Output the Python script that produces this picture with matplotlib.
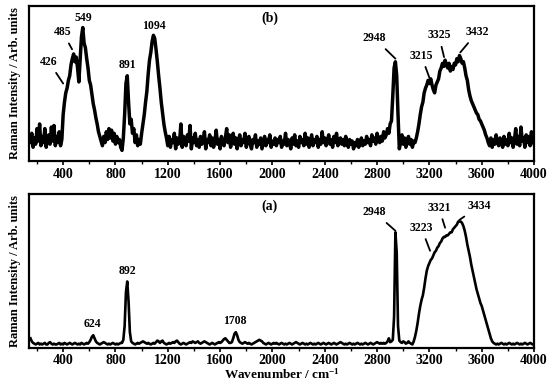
import numpy as np
import matplotlib
matplotlib.use('Agg')
import matplotlib.pyplot as plt
from matplotlib.ticker import MultipleLocator

# --- 1. Spectra (wavenumber grid 150..4000 cm-1, step 10) ---
WN_START = 150
WN_STEP = 10

# (b) noisy spectrum, relative intensity
spec_b = [
    0.12, 0.18, 0.09, 0.15, 0.11, 0.21, 0.13, 0.24, 0.10, 0.16,  # 150
    0.12, 0.21, 0.09, 0.14, 0.17, 0.11, 0.22, 0.13, 0.23, 0.10,  # 250
    0.16, 0.12, 0.19, 0.10, 0.14, 0.30, 0.38, 0.44, 0.47, 0.52,  # 350
    0.55, 0.62, 0.66, 0.69, 0.64, 0.67, 0.60, 0.51, 0.66, 0.80,  # 450
    0.86, 0.76, 0.73, 0.66, 0.60, 0.52, 0.49, 0.43, 0.37, 0.33,  # 550
    0.28, 0.24, 0.19, 0.16, 0.13, 0.10, 0.16, 0.12, 0.19, 0.14,  # 650
    0.21, 0.15, 0.20, 0.13, 0.18, 0.11, 0.16, 0.12, 0.14, 0.09,  # 750
    0.07, 0.15, 0.30, 0.50, 0.55, 0.38, 0.24, 0.27, 0.18, 0.21,  # 850
    0.12, 0.17, 0.10, 0.14, 0.11, 0.18, 0.24, 0.30, 0.38, 0.45,  # 950
    0.56, 0.65, 0.70, 0.77, 0.81, 0.79, 0.72, 0.64, 0.55, 0.47,  # 1050
    0.38, 0.31, 0.24, 0.19, 0.15, 0.10, 0.16, 0.09, 0.14, 0.12,  # 1150
    0.18, 0.08, 0.15, 0.11, 0.13, 0.24, 0.09, 0.16, 0.12, 0.10,  # 1250
    0.17, 0.13, 0.23, 0.08, 0.15, 0.12, 0.18, 0.10, 0.14, 0.09,  # 1350
    0.16, 0.11, 0.13, 0.19, 0.08, 0.14, 0.12, 0.17, 0.10, 0.15,  # 1450
    0.09, 0.13, 0.20, 0.11, 0.14, 0.08, 0.16, 0.12, 0.10, 0.15,  # 1550
    0.21, 0.12, 0.17, 0.09, 0.14, 0.18, 0.11, 0.15, 0.08, 0.13,  # 1650
    0.17, 0.10, 0.14, 0.12, 0.18, 0.09, 0.13, 0.16, 0.11, 0.08,  # 1750
    0.14, 0.12, 0.17, 0.09, 0.13, 0.11, 0.15, 0.08, 0.12, 0.16,  # 1850
    0.10, 0.14, 0.12, 0.17, 0.09, 0.13, 0.11, 0.15, 0.10, 0.14,  # 1950
    0.12, 0.16, 0.09, 0.13, 0.11, 0.18, 0.10, 0.14, 0.12, 0.08,  # 2050
    0.15, 0.11, 0.17, 0.10, 0.13, 0.09, 0.16, 0.12, 0.14, 0.10,  # 2150
    0.18, 0.11, 0.15, 0.09, 0.13, 0.17, 0.10, 0.14, 0.12, 0.16,  # 2250
    0.09, 0.14, 0.11, 0.19, 0.12, 0.15, 0.10, 0.13, 0.17, 0.11,  # 2350
    0.14, 0.09, 0.16, 0.12, 0.18, 0.10, 0.13, 0.15, 0.11, 0.14,  # 2450
    0.10, 0.16, 0.12, 0.09, 0.14, 0.11, 0.13, 0.08, 0.12, 0.10,  # 2550
    0.14, 0.09, 0.12, 0.15, 0.10, 0.13, 0.11, 0.16, 0.12, 0.14,  # 2650
    0.10, 0.17, 0.13, 0.15, 0.11, 0.18, 0.14, 0.12, 0.16, 0.13,  # 2750
    0.19, 0.15, 0.17, 0.21, 0.18, 0.24, 0.26, 0.42, 0.60, 0.64,  # 2850
    0.55, 0.30, 0.08, 0.12, 0.17, 0.11, 0.15, 0.09, 0.13, 0.16,  # 2950
    0.11, 0.14, 0.09, 0.13, 0.12, 0.15, 0.19, 0.24, 0.30, 0.35,  # 3050
    0.38, 0.44, 0.47, 0.49, 0.52, 0.50, 0.53, 0.49, 0.46, 0.44,  # 3150
    0.49, 0.51, 0.53, 0.58, 0.60, 0.63, 0.61, 0.65, 0.62, 0.60,  # 3250
    0.63, 0.58, 0.61, 0.59, 0.63, 0.62, 0.66, 0.64, 0.68, 0.66,  # 3350
    0.63, 0.64, 0.60, 0.55, 0.52, 0.46, 0.42, 0.39, 0.37, 0.35,  # 3450
    0.33, 0.31, 0.30, 0.27, 0.26, 0.24, 0.22, 0.20, 0.17, 0.15,  # 3550
    0.12, 0.10, 0.15, 0.09, 0.14, 0.11, 0.17, 0.12, 0.10, 0.15,  # 3650
    0.13, 0.09, 0.16, 0.11, 0.14, 0.10, 0.18, 0.12, 0.15, 0.09,  # 3750
    0.14, 0.21, 0.11, 0.16, 0.10, 0.22, 0.13, 0.15, 0.09, 0.17,  # 3850
    0.12, 0.16, 0.10, 0.19, 0.13, 0.11,                          # 3950
]

# (a) smooth spectrum, relative intensity
spec_a = [
    0.06, 0.04, 0.03, 0.025, 0.02, 0.025, 0.03, 0.02, 0.025, 0.02,  # 150
    0.025, 0.03, 0.02, 0.02, 0.03, 0.035, 0.025, 0.02, 0.025, 0.02,  # 250
    0.02, 0.025, 0.03, 0.02, 0.025, 0.02, 0.03, 0.025, 0.02, 0.025,  # 350
    0.03, 0.025, 0.02, 0.025, 0.03, 0.025, 0.02, 0.025, 0.02, 0.03,  # 450
    0.025, 0.02, 0.025, 0.03, 0.025, 0.035, 0.05, 0.07, 0.08, 0.06,  # 550
    0.04, 0.03, 0.025, 0.02, 0.025, 0.03, 0.035, 0.03, 0.025, 0.02,  # 650
    0.025, 0.02, 0.025, 0.03, 0.025, 0.02, 0.025, 0.02, 0.025, 0.03,  # 750
    0.03, 0.05, 0.14, 0.36, 0.43, 0.30, 0.10, 0.04, 0.03, 0.025,  # 850
    0.02, 0.025, 0.03, 0.025, 0.03, 0.035, 0.04, 0.035, 0.03, 0.025,  # 950
    0.03, 0.025, 0.02, 0.025, 0.03, 0.025, 0.035, 0.045, 0.04, 0.03,  # 1050
    0.04, 0.045, 0.03, 0.025, 0.02, 0.025, 0.03, 0.025, 0.03, 0.035,  # 1150
    0.03, 0.04, 0.045, 0.035, 0.025, 0.02, 0.025, 0.03, 0.025, 0.02,  # 1250
    0.025, 0.03, 0.035, 0.03, 0.04, 0.035, 0.03, 0.035, 0.04, 0.03,  # 1350
    0.025, 0.03, 0.035, 0.04, 0.035, 0.03, 0.025, 0.02, 0.025, 0.03,  # 1450
    0.025, 0.02, 0.025, 0.03, 0.035, 0.03, 0.035, 0.045, 0.055, 0.06,  # 1550
    0.05, 0.04, 0.03, 0.03, 0.035, 0.06, 0.09, 0.10, 0.08, 0.05,  # 1650
    0.035, 0.03, 0.025, 0.03, 0.035, 0.03, 0.025, 0.03, 0.025, 0.02,  # 1750
    0.025, 0.03, 0.035, 0.04, 0.045, 0.05, 0.045, 0.04, 0.03, 0.025,  # 1850
    0.02, 0.025, 0.03, 0.025, 0.02, 0.025, 0.03, 0.025, 0.03, 0.025,  # 1950
    0.02, 0.025, 0.03, 0.025, 0.02, 0.025, 0.02, 0.025, 0.03, 0.025,  # 2050
    0.02, 0.025, 0.03, 0.035, 0.03, 0.025, 0.02, 0.025, 0.03, 0.025,  # 2150
    0.02, 0.025, 0.02, 0.025, 0.03, 0.025, 0.02, 0.025, 0.02, 0.025,  # 2250
    0.03, 0.025, 0.02, 0.025, 0.03, 0.025, 0.02, 0.025, 0.03, 0.025,  # 2350
    0.02, 0.025, 0.03, 0.025, 0.02, 0.025, 0.03, 0.035, 0.03, 0.025,  # 2450
    0.02, 0.025, 0.02, 0.025, 0.03, 0.025, 0.02, 0.025, 0.02, 0.025,  # 2550
    0.03, 0.025, 0.02, 0.025, 0.02, 0.025, 0.03, 0.025, 0.02, 0.025,  # 2650
    0.03, 0.025, 0.02, 0.025, 0.03, 0.035, 0.03, 0.025, 0.03, 0.025,  # 2750
    0.03, 0.025, 0.03, 0.04, 0.06, 0.035, 0.04, 0.05, 0.20, 0.75,  # 2850
    0.62, 0.14, 0.045, 0.035, 0.03, 0.04, 0.035, 0.025, 0.03, 0.04,  # 2950
    0.03, 0.025, 0.02, 0.04, 0.07, 0.11, 0.16, 0.22, 0.27, 0.31,  # 3050
    0.34, 0.39, 0.45, 0.50, 0.53, 0.55, 0.57, 0.58, 0.60, 0.62,  # 3150
    0.63, 0.65, 0.66, 0.68, 0.69, 0.71, 0.72, 0.72, 0.73, 0.73,  # 3250
    0.74, 0.75, 0.75, 0.77, 0.78, 0.79, 0.80, 0.82, 0.82, 0.82,  # 3350
    0.81, 0.79, 0.76, 0.72, 0.67, 0.63, 0.59, 0.54, 0.50, 0.46,  # 3450
    0.42, 0.38, 0.35, 0.32, 0.29, 0.27, 0.24, 0.21, 0.18, 0.15,  # 3550
    0.12, 0.09, 0.06, 0.04, 0.03, 0.025, 0.02, 0.025, 0.02, 0.025,  # 3650
    0.03, 0.025, 0.02, 0.025, 0.02, 0.025, 0.03, 0.025, 0.02, 0.025,  # 3750
    0.02, 0.025, 0.03, 0.025, 0.02, 0.025, 0.02, 0.025, 0.03, 0.025,  # 3850
    0.02, 0.025, 0.03, 0.025, 0.02, 0.025,                            # 3950
]

# peak labels: (text, label x, label y, line end x, line end y) -- None = no leader line
labels_b = [
    ('426', 290, 0.64, 400, 0.50),
    ('485', 398, 0.83, 468, 0.72),
    ('549', 551, 0.92, None, None),
    ('891', 895, 0.62, None, None),
    ('1094', 1093, 0.87, None, None),
    ('2948', 2781, 0.79, 2940, 0.66),
    ('3215', 3138, 0.68, 3203, 0.53),
    ('3325', 3272, 0.81, 3312, 0.67),
    ('3432', 3566, 0.83, 3436, 0.70),
]
labels_a = [
    ('624', 627, 0.15, None, None),
    ('892', 895, 0.50, None, None),
    ('1708', 1711, 0.17, None, None),
    ('2948', 2781, 0.88, 2940, 0.76),
    ('3223', 3138, 0.78, 3205, 0.63),
    ('3321', 3272, 0.91, 3320, 0.78),
    ('3434', 3582, 0.92, 3428, 0.83),
]

# --- 2. Style ---
plt.rcParams['font.family'] = 'Liberation Serif'
plt.rcParams['font.weight'] = 'bold'
plt.rcParams['mathtext.fontset'] = 'custom'
plt.rcParams['mathtext.rm'] = 'Liberation Serif:bold'
plt.rcParams['mathtext.it'] = 'Liberation Serif:bold'
plt.rcParams['mathtext.bf'] = 'Liberation Serif:bold'

fig = plt.figure(figsize=(5.5, 3.84), dpi=100)
ax_b = fig.add_axes([0.053, 0.58, 0.918, 0.405])
ax_a = fig.add_axes([0.053, 0.095, 0.918, 0.40])


def draw_panel(ax, values, labels, tag, lw):
    wn = WN_START + WN_STEP * np.arange(len(values))
    ax.plot(wn, values, color='black', lw=lw)
    ax.set_xlim(140, 4000)
    ax.set_ylim(0, 1)
    ax.set_yticks([])
    ax.xaxis.set_major_locator(MultipleLocator(400))
    ax.xaxis.set_minor_locator(MultipleLocator(200))
    ax.tick_params(axis='x', which='major', direction='out', length=3, width=1.2,
                   labelsize=10, pad=1.5)
    ax.tick_params(axis='x', which='minor', direction='out', length=2, width=1)
    for lab in ax.get_xticklabels():
        lab.set_fontweight('bold')
    for sp in ax.spines.values():
        sp.set_linewidth(1.6)
    ax.set_ylabel('Raman Intensity / Arb. units', fontsize=9, fontweight='bold',
                  labelpad=6)
    ax.text(0.477, 0.92, tag, transform=ax.transAxes, ha='center', va='center',
            fontsize=10, fontweight='bold')
    for txt, tx, ty, lx, ly in labels:
        if lx is None:
            ax.text(tx, ty, txt, ha='center', va='center', fontsize=8.5,
                    fontweight='bold')
        else:
            ax.annotate(txt, xy=(lx, ly), xytext=(tx, ty), ha='center', va='center',
                        fontsize=8.5, fontweight='bold',
                        arrowprops=dict(arrowstyle='-', lw=1.3, color='black',
                                        shrinkA=2, shrinkB=0))


draw_panel(ax_b, spec_b, labels_b, '(b)', 2.5)
draw_panel(ax_a, spec_a, labels_a, '(a)', 1.9)
ax_a.set_xlabel('Wavenumber / cm$^{-1}$', fontsize=9.5, fontweight='bold', labelpad=0)

fig.savefig('out.png', dpi=100)
plt.close(fig)
